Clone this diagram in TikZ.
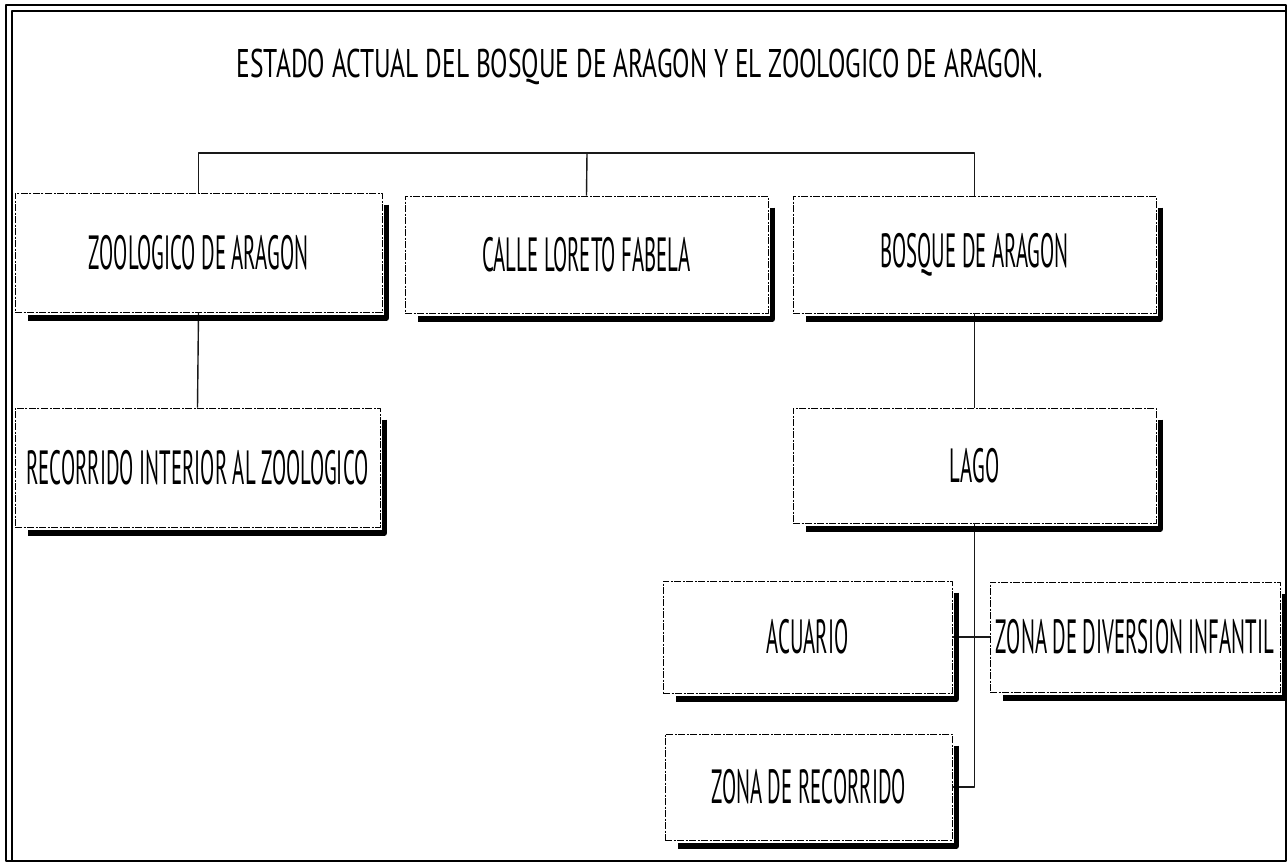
\documentclass[tikz,border=0pt]{standalone}
\usepackage{fontspec}
\setmainfont{PT Sans}
\newfontfamily\rotulo[FakeStretch=0.433]{PT Sans}
\newfontfamily\titulo[FakeStretch=0.637]{PT Sans}
\tikzset{
  caja/.style={draw=black,dash pattern=on 7pt off 1.5pt on 2pt off 1.5pt,line width=0.9pt,fill=white,
    inner sep=0pt,font=\rotulo\fontsize{48}{52}\selectfont},
  sombra/.style={draw=black,line width=5.5pt,solid,line cap=butt},
  linea/.style={line width=1.4pt,black!90}
}
\begin{document}
\begin{tikzpicture}[x=1pt,y=-1pt,line join=round]
            \useasboundingbox (0,0) rectangle (1288,863);
            % marco
            \draw[line width=1.6pt] (6,5) rectangle (1286,861);
            \draw[line width=1.1pt] (12,861)--(12,11)--(1286,11);
            \node (titulo) at (640,67) {\titulo\fontsize{40}{44}\selectfont ESTADO ACTUAL DEL BOSQUE DE ARAGON Y EL ZOOLOGICO DE ARAGON.};
            % conectores
            \coordinate (bus) at (587,153);
            \node[caja,minimum width=367,minimum height=119] (zoo) at (198.5,252.5) {ZOOLOGICO DE ARAGON};
            \node[caja,minimum width=363,minimum height=117] (calle) at (586.5,254.5) {CALLE LORETO FABELA};
            \node[caja,minimum width=363,minimum height=117] (bosque) at (974.5,254.5) {BOSQUE DE ARAGON};
            \node[caja,minimum width=365,minimum height=119] (recorrido) at (197.5,467.5) {RECORRIDO INTERIOR AL ZOOLOGICO};
            \node[caja,minimum width=363,minimum height=115] (lago) at (974.5,465.5) {LAGO};
            \node[caja,minimum width=289,minimum height=112] (acuario) at (807.5,637) {ACUARIO};
            \node[caja,minimum width=290,minimum height=110] (infantil) at (1135,637) {ZONA DE DIVERSION INFANTIL};
            \node[caja,minimum width=287,minimum height=106] (zonarec) at (808.5,787) {ZONA DE RECORRIDO};
            \draw[linea] (zoo.north) |- (bus) -| (bosque.north);
            \draw[linea] (bus)--(calle.north);
            \draw[linea] (zoo.south)--(recorrido.north);
            \draw[linea] (bosque.south)--(lago.north);
            \draw[linea] (lago.south) |- (zonarec.east);
            \draw[linea] (acuario.east)--(infantil.west);
            % sombras
            \foreach \n in {zoo,calle,bosque,recorrido,lago,acuario,infantil,zonarec}
              \draw[sombra] ([xshift=4pt,yshift=-12pt]\n.north east) |- ([xshift=13pt,yshift=-5.5pt]\n.south west);
        \end{tikzpicture}
\end{document}
